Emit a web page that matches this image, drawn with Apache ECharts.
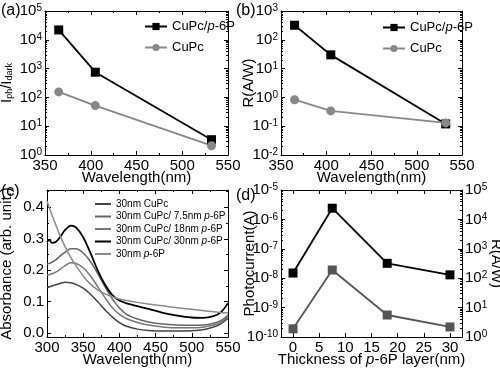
<!DOCTYPE html>
<html><head><meta charset="utf-8">
<script src="https://cdn.jsdelivr.net/npm/echarts@6/dist/echarts.min.js"></script>
<style>html,body{margin:0;padding:0;background:#fff}#c{width:500px;height:370px}</style>
</head><body><div id="c"></div><script>
const FONT = '"Liberation Sans", Arial, sans-serif';
// panel (a) and (b)
const wavelengthAB = [365, 405, 532];
const onOffBilayer = [22000, 750, 3.4];
const onOffCuPc = [155, 52, 2.1];
const respBilayer = [320, 30, 0.12];
const respCuPc = [0.83, 0.34, 0.13];
// panel (c)
const wavelengthC = [300, 303, 307, 312, 318, 325, 333, 340, 350, 360, 370, 380, 390, 400, 410, 425, 440, 460, 480, 500, 515, 530, 540, 550];
const absCuPc  = [0.145,0.147,0.150,0.154,0.158,0.162,0.160,0.155,0.143,0.124,0.100,0.075,0.052,0.034,0.022,0.013,0.009,0.007,0.007,0.008,0.011,0.020,0.030,0.047];
const abs75    = [0.220,0.222,0.226,0.233,0.245,0.258,0.268,0.268,0.255,0.228,0.190,0.148,0.110,0.080,0.060,0.045,0.036,0.029,0.026,0.025,0.026,0.032,0.040,0.058];
const abs18    = [0.185,0.186,0.189,0.194,0.203,0.215,0.224,0.222,0.208,0.182,0.148,0.113,0.082,0.060,0.046,0.034,0.026,0.020,0.017,0.017,0.019,0.026,0.035,0.052];
const abs30    = [0.290,0.297,0.287,0.290,0.305,0.328,0.342,0.336,0.305,0.255,0.200,0.155,0.122,0.104,0.095,0.086,0.077,0.065,0.056,0.050,0.049,0.054,0.066,0.095];
const absP6P   = [0.420,0.400,0.375,0.345,0.310,0.275,0.240,0.215,0.182,0.156,0.138,0.125,0.116,0.109,0.104,0.098,0.093,0.087,0.081,0.076,0.072,0.068,0.066,0.064];
const legendC = ['30nm CuPc', '30nm CuPc/ 7.5nm p-6P', '30nm CuPc/ 18nm p-6P', '30nm CuPc/ 30nm p-6P', '30nm p-6P'];
// panel (d)
const thickness = [0, 7.5, 18, 30];
const photocurrent = [1.5e-8, 2.4e-6, 3.2e-8, 1.3e-8];
const respThickness = [1.9, 190, 5.6, 2.2];
// tick labels
const xTicksAB = [350, 400, 450, 500, 550];
const xTicksC = [300, 350, 400, 450, 500, 550];
const yTicksC = [0, 0.1, 0.2, 0.3, 0.4];
const yMinorC = [0.05, 0.15, 0.25, 0.35, 0.45];
const xTicksD = [0, 5, 10, 15, 20, 25, 30];

const zip = (xs, ys) => xs.map((x, i) => [x, ys[i]]);
const italicP = s => s.replace(/\bp-6P/g, '{i|p}-6P');
const logFmt = v => '10{s|' + Math.round(Math.log10(v)) + '}';
const logRich = {s: {fontSize: 10, fontFamily: FONT, color: '#000', verticalAlign: 'top'}};
const logMinor = (lo, hi) => { const r = []; for (let n = lo; n < hi; n++) for (let k = 2; k <= 9; k++) r.push(n + Math.log10(k)); return r; };

function axis(gridIndex, position, type, min, max, o) {
  o = o || {};
  const a = {gridIndex, position, type, min, max,
    axisLine: {show: o.line !== false, onZero: false, lineStyle: {color: '#000', width: 1}},
    axisTick: {show: true, inside: true, length: o.tickLen || 4, lineStyle: {color: '#000'}},
    axisLabel: {show: !!o.label, color: '#000', fontSize: 15, fontFamily: FONT, margin: o.margin == null ? 3 : o.margin},
    splitLine: {show: false}, minorSplitLine: {show: false}};
  if (type === 'log') { a.logBase = 10; a.splitNumber = 5; }
  if (o.interval) a.interval = o.interval;
  if (o.ticks) { a.axisTick.customValues = o.ticks; a.axisLabel.customValues = o.ticks; }
  if (o.minor) a.minorTick = {show: true, splitNumber: o.minor, length: 2, lineStyle: {color: '#000'}};
  if (o.fmt) a.axisLabel.formatter = o.fmt;
  if (o.rich) a.axisLabel.rich = o.rich;
  if (o.name) Object.assign(a, {name: o.name, nameLocation: 'middle', nameGap: o.nameGap, nameRotate: o.nameRotate,
    nameMoveOverlap: false,
    nameTextStyle: {color: '#000', fontSize: 15, fontFamily: FONT, rich: o.nameRich}});
  return a;
}

const grids = [
  {left: 45, top: 11, width: 183, height: 144},
  {left: 281, top: 11, width: 181, height: 144},
  {left: 47, top: 190, width: 181, height: 147},
  {left: 281, top: 190, width: 181, height: 147}
].map(g => Object.assign(g, {containLabel: false, outerBoundsMode: 'none'}));

const xAxes = [
  axis(0, 'bottom', 'value', 350, 550, {interval: 50, minor: 2, label: true, name: 'Wavelength(nm)', nameGap: 15}),
  axis(0, 'top', 'value', 350, 550, {interval: 50, minor: 2}),
  axis(1, 'bottom', 'value', 350, 550, {interval: 50, minor: 2, label: true, name: 'Wavelength(nm)', nameGap: 15}),
  axis(1, 'top', 'value', 350, 550, {interval: 50, minor: 2}),
  axis(2, 'bottom', 'value', 300, 550, {interval: 50, minor: 2, label: true, name: 'Wavelength(nm)', nameGap: 15}),
  axis(2, 'top', 'value', 300, 550, {interval: 50, minor: 2}),
  axis(3, 'bottom', 'value', -2.3, 32.3, {ticks: xTicksD, label: true, name: 'Thickness of {i|p}-6P layer(nm)', nameGap: 15,
    nameRich: {i: {fontStyle: 'italic', fontSize: 15, fontFamily: FONT, color: '#000'}}}),
  axis(3, 'top', 'value', -2.3, 32.3, {ticks: xTicksD})
];

const subRich = {s: {fontSize: 9, fontFamily: FONT, color: '#000', verticalAlign: 'bottom'}};
const yAxes = [
  // (a) 0-3
  axis(0, 'left', 'log', 1, 1e5, {label: true, fmt: logFmt, rich: logRich, name: 'I{s|ph}/I{s|dark}', nameGap: 31, nameRich: subRich}),
  axis(0, 'right', 'log', 1, 1e5, {}),
  axis(0, 'left', 'value', 0, 5, {line: false, ticks: logMinor(0, 5), tickLen: 2}),
  axis(0, 'right', 'value', 0, 5, {line: false, ticks: logMinor(0, 5), tickLen: 2}),
  // (b) 4-7
  axis(1, 'left', 'log', 1e-2, 1e3, {label: true, fmt: logFmt, rich: logRich, name: 'R(A/W)', nameGap: 25}),
  axis(1, 'right', 'log', 1e-2, 1e3, {}),
  axis(1, 'left', 'value', -2, 3, {line: false, ticks: logMinor(-2, 3), tickLen: 2}),
  axis(1, 'right', 'value', -2, 3, {line: false, ticks: logMinor(-2, 3), tickLen: 2}),
  // (c) 8-11
  axis(2, 'left', 'value', -0.012, 0.455, {ticks: yTicksC, label: true, fmt: v => v.toFixed(1), name: 'Absorbance (arb. unit.)', nameGap: 33}),
  axis(2, 'right', 'value', -0.012, 0.455, {ticks: yTicksC}),
  axis(2, 'left', 'value', -0.012, 0.455, {line: false, ticks: yMinorC, tickLen: 2}),
  axis(2, 'right', 'value', -0.012, 0.455, {line: false, ticks: yMinorC, tickLen: 2}),
  // (d) 12-15
  axis(3, 'left', 'log', 1e-10, 1e-5, {label: true, fmt: logFmt, rich: logRich, name: 'Photocurrent(A)', nameGap: 24}),
  axis(3, 'right', 'log', 1, 1e5, {label: true, fmt: logFmt, rich: logRich, name: 'R(A/W)', nameGap: 27, nameRotate: -90}),
  axis(3, 'left', 'value', 0, 5, {line: false, ticks: logMinor(0, 5), tickLen: 2}),
  axis(3, 'right', 'value', 0, 5, {line: false, ticks: logMinor(0, 5), tickLen: 2})
];

function marked(name, data, xi, yi, color, symbol) {
  return {type: 'line', name, data, xAxisIndex: xi, yAxisIndex: yi, symbol, symbolSize: 9,
    itemStyle: {color}, lineStyle: {color, width: 1.8}, z: 3};
}
function curve(name, data, color, width) {
  return {type: 'line', name, data, xAxisIndex: 4, yAxisIndex: 8, symbol: 'none', smooth: 0.3,
    itemStyle: {color}, lineStyle: {color, width}};
}

const series = [
  marked('CuPc/p-6P', zip(wavelengthAB, onOffBilayer), 0, 0, '#000', 'rect'),
  marked('CuPc', zip(wavelengthAB, onOffCuPc), 0, 0, '#888', 'circle'),
  marked('CuPc/p-6P', zip(wavelengthAB, respBilayer), 2, 4, '#000', 'rect'),
  marked('CuPc', zip(wavelengthAB, respCuPc), 2, 4, '#888', 'circle'),
  curve(legendC[0], zip(wavelengthC, absCuPc), '#444', 1.5),
  curve(legendC[1], zip(wavelengthC, abs75), '#666', 1.5),
  curve(legendC[2], zip(wavelengthC, abs18), '#777', 1.5),
  curve(legendC[3], zip(wavelengthC, abs30), '#000', 1.8),
  curve(legendC[4], zip(wavelengthC, absP6P), '#8a8a8a', 1.5),
  marked('Photocurrent', zip(thickness, photocurrent), 6, 12, '#000', 'rect'),
  marked('Responsivity', zip(thickness, respThickness), 6, 13, '#555', 'rect')
];

const legStyle = size => ({fontSize: size, fontFamily: FONT, color: '#000', rich: {i: {fontStyle: 'italic', fontSize: size, fontFamily: FONT, color: '#000'}}});
const legends = [
  {data: ['CuPc/p-6P', 'CuPc'], left: 139, top: 15, orient: 'vertical', itemGap: 8, itemWidth: 22, itemHeight: 9, itemStyle: {}, formatter: italicP, textStyle: legStyle(13)},
  {data: ['CuPc/p-6P', 'CuPc'], left: 377, top: 16, orient: 'vertical', itemGap: 8, itemWidth: 22, itemHeight: 9, formatter: italicP, textStyle: legStyle(13)},
  {data: legendC, left: 90, top: 194, orient: 'vertical', itemGap: 2.5, itemWidth: 16, itemHeight: 2, icon: 'rect', formatter: italicP, textStyle: legStyle(10)}
];

const panelLabels = [['(a)', 1, 3], ['(b)', 236, 3], ['(c)', 1, 184], ['(d)', 236, 188]];

const chart = echarts.init(document.getElementById('c'), null, {renderer: 'canvas'});
chart.setOption({
  animation: false,
  backgroundColor: '#fff',
  textStyle: {fontFamily: FONT},
  grid: grids, xAxis: xAxes, yAxis: yAxes, series, legend: legends,
  graphic: panelLabels.map(([t, x, y]) => ({type: 'text', left: x, top: y, style: {text: t, fontSize: 16, fontFamily: FONT, fill: '#000'}}))
});
</script></body></html>
